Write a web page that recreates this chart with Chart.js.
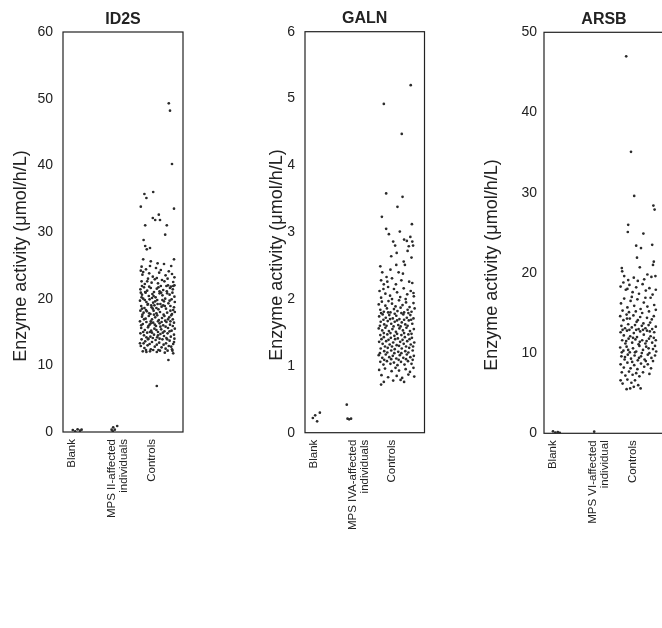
<!DOCTYPE html>
<html>
<head>
<meta charset="utf-8">
<script src="https://cdn.jsdelivr.net/npm/chart.js@4/dist/chart.umd.min.js"></script>
<style>
html,body{margin:0;padding:0;background:#fff;overflow:hidden;width:662px;height:628px;}
canvas{position:absolute;top:0;}
</style>
</head>
<body>
<canvas id="c1" width="256" height="628" style="left:0px"></canvas>
<canvas id="c2" width="243" height="628" style="left:245px"></canvas>
<canvas id="c3" width="269" height="628" style="left:470px"></canvas>
<script>
// ---------- DATA ----------
const yAxisTitle = 'Enzyme activity (\u03bcmol/h/L)';
const panelTitles = ['ID2S', 'GALN', 'ARSB'];
const id2sCategories = ['Blank', ['MPS II-affected', 'individuals'], 'Controls'];
const galnCategories = ['Blank', ['MPS IVA-affected', 'individuals'], 'Controls'];
const arsbCategories = ['Blank', ['MPS VI-affected', 'individual'], 'Controls'];
const id2sYTicks = [0, 60, 10];   // min, max, step
const galnYTicks = [0, 6, 1];
const arsbYTicks = [0, 50, 10];

// points: [category position with jitter, activity]
const id2sBlank = [[1.02,0.3],[1.08,0.1],[1.14,0.4],[1.20,0.2],[1.24,0.35]];
const id2sAffected = [[1.99,0.35],[2.02,0.1],[2.03,0.7],[2.07,0.35],[2.13,0.9]];
const id2sControls = [
[3.42,49.3],[3.45,48.2],[3.50,40.2],[2.72,33.8],[3.55,33.5],[2.81,35.7],[2.86,35.1],[3.03,36.0],[2.83,31.0],[3.02,32.1],[3.08,31.8],[3.17,32.6],[3.20,31.8],[3.37,31.0],[3.33,29.6],
[2.79,28.8],[2.83,27.9],[2.87,27.4],[2.95,27.6],[2.78,25.9],[3.55,25.9],[2.97,25.6],[3.14,25.3],[3.30,25.2],[2.74,24.8],
[2.72,24.2],[2.76,23.6],[2.85,24.4],[2.93,23.8],[3.02,23.3],[3.10,24.6],[3.18,23.9],[3.25,22.8],[3.34,23.5],[3.42,24.1],[3.50,23.7],[3.56,23.2],[3.53,22.5],[2.74,22.6],[2.82,22.2],[2.90,23.0],[2.99,22.4],[3.07,22.9],[3.15,22.3],[3.22,21.9],[3.31,22.6],[3.40,22.0],[3.47,21.8],[3.56,22.0],[2.95,24.9],
[2.71,21.4],[2.80,21.7],[2.88,21.2],[2.97,21.6],[3.05,21.0],[3.12,21.5],[3.28,21.3],[3.37,21.1],[3.52,21.4],
[2.75,20.6],[2.84,20.9],[2.92,20.4],[3.01,20.7],[3.09,20.2],[3.19,20.8],[3.26,20.5],[3.33,20.0],[3.44,20.6],[3.56,20.3],
[2.70,19.7],[2.78,20.0],[2.86,19.5],[2.94,19.9],[3.03,19.4],[3.13,19.8],[3.21,19.2],[3.30,19.6],[3.41,19.3],[3.49,19.9],[3.57,19.5],
[2.73,18.9],[2.81,18.6],[2.89,19.1],[2.99,18.7],[3.06,19.0],[3.16,18.4],[3.24,18.8],[3.35,18.5],[3.46,18.9],[3.53,18.3],
[2.71,18.2],[2.79,17.9],[2.87,18.1],[2.96,17.7],[3.04,18.2],[3.11,17.8],[3.20,18.0],[3.29,17.6],[3.38,17.9],[3.48,17.5],[3.57,18.0],
[2.75,17.3],[2.84,17.0],[2.92,17.4],[3.00,16.9],[3.08,17.2],[3.17,16.8],[3.25,17.1],[3.33,16.7],[3.43,17.2],[3.52,16.9],
[2.70,16.6],[2.77,16.2],[2.86,16.5],[2.94,16.1],[3.03,16.4],[3.10,15.9],[3.19,16.3],[3.28,16.0],[3.36,16.5],[3.45,16.1],[3.55,16.4],
[2.73,15.6],[2.82,15.3],[2.90,15.7],[2.98,15.2],[3.06,15.5],[3.15,15.0],[3.23,15.4],[3.31,15.1],[3.40,15.6],[3.49,15.2],[3.57,15.5],
[2.71,14.8],[2.80,14.5],[2.88,14.9],[2.96,14.3],[3.05,14.6],[3.13,14.2],[3.21,14.7],[3.30,14.4],[3.39,14.8],[3.47,14.3],[3.55,14.6],
[2.74,13.9],[2.83,13.6],[2.91,14.0],[3.00,13.5],[3.09,13.8],[3.18,13.4],[3.26,13.9],[3.35,13.3],[3.44,13.7],[3.53,13.2],
[2.72,12.9],[2.81,12.6],[2.89,13.0],[2.97,12.4],[3.07,12.8],[3.16,12.3],[3.24,12.7],[3.34,12.5],[3.42,12.9],[3.51,12.2],
[2.77,12.1],[2.86,12.0],[2.95,12.1],[3.12,12.0],[3.32,11.9],[3.53,11.8],[3.50,12.4],
[3.41,10.8],[3.12,6.9],
[2.75,21.9],[2.93,21.8],[3.16,21.7],[3.45,21.6],[2.83,21.0],[3.00,20.1],[3.23,20.9],[3.38,20.8],[3.51,20.9],[2.74,20.2],[2.90,19.2],[3.08,19.6],[3.26,19.8],[3.44,19.7],[2.85,18.3],[3.02,18.5],[3.14,19.2],[3.32,18.9],[3.55,18.7],[2.76,17.6],[2.93,17.8],[3.13,17.5],[3.31,17.4],[3.50,17.7],[2.80,16.9],[2.97,16.6],[3.15,16.6],[3.24,16.5],[3.40,16.9],[2.73,16.0],[2.91,15.9],[3.07,16.1],[3.34,15.8],[3.52,15.9],[2.78,15.0],[2.95,15.0],[3.11,15.3],[3.27,14.9],[3.44,15.1],[2.86,14.2],[3.02,14.1],[3.19,14.0],[3.36,14.1],[3.56,14.0],[2.79,13.3],[2.94,13.2],[3.12,13.1],[3.29,13.1],[3.48,12.8],[2.85,12.3],[3.03,12.3],[3.20,12.2],[3.39,12.2],[2.70,13.3],[2.98,19.0],[3.36,21.9],[2.72,20.9],[3.19,21.1],[3.05,17.6],[3.46,18.2],
[2.88,22.6],[3.12,23.1],[3.39,23.0],[2.78,24.0],[3.22,24.3],[3.48,24.9],[3.04,20.4],[3.28,19.0],[2.82,19.8],[3.11,18.6],[2.97,16.3],[3.21,15.8],[3.38,13.9],[2.90,13.9],[3.55,13.5],[3.00,14.9],[3.46,16.6],[2.75,18.5],[3.53,21.9],[3.15,14.5]
];

const galnBlank = [[0.97,0.22],[1.03,0.26],[1.08,0.17],[1.15,0.30]];
const galnAffected = [[1.84,0.42],[1.86,0.21],[1.90,0.20],[1.95,0.21]];
const galnControls = [
[3.48,5.20],[2.79,4.92],[3.25,4.47],[2.85,3.58],[3.27,3.53],[3.14,3.38],[2.74,3.23],[2.85,3.05],[3.20,3.01],[3.51,3.12],
[3.03,2.86],[3.08,2.80],[3.31,2.89],[3.38,2.87],[3.43,2.79],[3.52,2.86],[3.54,2.80],[3.40,2.72],[3.12,2.69],[2.98,2.64],[3.50,2.62],[3.30,2.56],[3.33,2.51],[3.11,2.51],[2.70,2.49],[3.47,2.93],[2.92,2.97],
[2.86,2.33],[2.72,2.28],[2.79,2.22],[2.90,2.18],[3.00,2.31],[3.24,2.28],[3.44,2.26],[3.52,2.24],[2.75,2.40],[2.96,2.44],[3.17,2.40],[2.68,2.12],[2.83,2.08],[2.95,2.05],[3.05,2.15],[3.13,2.10],[3.21,2.03],[3.30,2.16],[3.39,2.07],[3.48,2.12],[3.56,2.04],[2.72,2.02],[3.00,2.00],[3.35,2.00],[3.55,2.09],[2.88,2.26],[3.28,2.38],[3.10,2.22],[2.78,2.15],
[2.66,1.92],[2.74,1.96],[2.83,1.90],[2.91,1.97],[3.00,1.93],[3.09,1.89],[3.18,1.98],[3.27,1.91],[3.36,1.95],[3.45,1.88],[3.55,1.94],
[2.70,1.84],[2.79,1.81],[2.87,1.86],[2.96,1.80],[3.05,1.85],[3.14,1.82],[3.22,1.87],[3.31,1.80],[3.40,1.84],[3.50,1.81],[3.58,1.86],
[2.67,1.74],[2.76,1.77],[2.84,1.72],[2.93,1.76],[3.02,1.71],[3.11,1.75],[3.19,1.70],[3.29,1.77],[3.38,1.72],[3.47,1.76],[3.55,1.71],
[2.71,1.66],[2.80,1.62],[2.89,1.67],[2.98,1.63],[3.07,1.66],[3.16,1.61],[3.25,1.65],[3.34,1.62],[3.43,1.68],[3.52,1.63],
[2.66,1.56],[2.75,1.53],[2.83,1.57],[2.92,1.52],[3.01,1.55],[3.10,1.51],[3.19,1.56],[3.28,1.53],[3.37,1.57],[3.46,1.52],[3.56,1.55],
[2.70,1.46],[2.79,1.43],[2.88,1.47],[2.97,1.42],[3.06,1.45],[3.15,1.41],[3.24,1.46],[3.33,1.43],[3.42,1.47],[3.51,1.42],
[2.67,1.36],[2.76,1.33],[2.85,1.37],[2.94,1.32],[3.03,1.35],[3.12,1.31],[3.21,1.36],[3.30,1.33],[3.39,1.37],[3.48,1.32],[3.57,1.35],
[2.71,1.26],[2.80,1.22],[2.89,1.27],[2.98,1.23],[3.07,1.25],[3.16,1.21],[3.25,1.26],[3.34,1.22],[3.44,1.27],[3.53,1.23],
[2.66,1.16],[2.75,1.12],[2.84,1.17],[2.93,1.13],[3.02,1.15],[3.11,1.11],[3.20,1.16],[3.29,1.12],[3.38,1.17],[3.47,1.13],[3.56,1.15],
[2.70,1.06],[2.78,1.02],[2.87,1.07],[2.96,1.03],[3.05,1.05],[3.14,1.01],[3.23,1.06],[3.32,1.02],[3.41,1.07],[3.50,1.03],
[2.67,0.94],[2.82,0.96],[2.99,0.92],[3.09,0.97],[3.18,0.93],[3.35,0.95],[3.46,0.91],[3.55,0.97],
[2.73,0.86],[2.90,0.83],[3.12,0.85],[3.26,0.82],[3.42,0.87],[3.57,0.84],
[2.79,0.76],[3.03,0.78],[3.22,0.79],[3.31,0.76],[2.72,0.72],
[2.72,1.79],[2.90,1.80],[3.07,1.78],[3.24,1.79],[3.42,1.79],[2.78,1.69],[2.95,1.70],[3.13,1.68],[3.31,1.69],[3.49,1.69],[2.69,1.60],[2.86,1.60],[3.04,1.59],[3.22,1.59],[3.40,1.60],[2.79,1.49],[2.96,1.49],[3.13,1.48],[3.31,1.49],[3.50,1.48],[2.73,1.40],[2.91,1.39],[3.08,1.40],[3.27,1.39],[3.45,1.40],[2.82,1.29],[3.00,1.29],[3.18,1.30],[3.36,1.29],[3.54,1.29],[2.69,1.19],[2.88,1.20],[3.06,1.19],[3.24,1.19],[3.42,1.20],[2.80,1.09],[2.98,1.10],[3.17,1.09],[3.36,1.10],[3.53,1.09]
];

const arsbBlank = [[1.00,0.25],[1.06,0.10],[1.12,0.15],[1.17,0.05]];
const arsbAffected = [[2.03,0.20]];
const arsbControls = [
[2.83,47.0],[2.95,35.1],[3.03,29.6],[3.51,28.4],[3.54,27.9],[2.88,26.0],[2.87,25.1],[3.26,24.9],[3.08,23.4],[3.20,23.1],[3.48,23.5],[3.10,21.9],[3.52,21.4],[3.50,21.0],
[2.72,20.6],[2.73,20.2],[3.17,20.7],[2.78,19.6],[3.02,19.4],[3.36,19.8],[3.46,19.5],[2.88,19.1],[3.28,19.2],[3.56,19.6],
[2.69,18.3],[2.76,18.8],[2.82,17.9],[2.91,18.5],[2.99,17.6],[3.08,18.2],[3.15,17.4],[3.24,18.6],[3.32,17.8],[3.41,18.1],[3.49,17.3],[3.57,17.9],[2.86,18.0],[3.12,19.0],
[2.70,16.2],[2.78,16.8],[2.86,15.7],[2.94,16.5],[3.03,15.9],[3.11,16.7],[3.19,15.5],[3.27,16.3],[3.36,15.8],[3.44,16.9],[3.53,16.0],[2.74,15.3],[2.90,15.1],[3.07,15.2],[3.23,15.0],[3.40,15.2],[3.57,15.4],[2.97,17.0],[3.31,16.9],
[2.68,14.6],[2.76,14.1],[2.84,14.8],[2.92,14.3],[3.01,14.7],[3.09,13.9],[3.18,14.5],[3.26,13.7],[3.35,14.4],[3.43,13.8],[3.52,14.6],[2.71,13.4],[2.80,13.1],[2.88,13.6],[2.97,13.2],[3.05,13.5],[3.14,13.0],[3.22,13.4],[3.31,13.1],[3.39,13.5],[3.48,13.0],[3.57,13.3],
[2.69,12.6],[2.77,12.2],[2.85,12.8],[2.93,12.1],[3.02,12.5],[3.10,12.0],[3.18,12.7],[3.27,12.3],[3.35,12.8],[3.44,12.1],[3.53,12.6],[2.73,11.6],[2.81,11.2],[2.89,11.8],[2.98,11.3],[3.06,11.7],[3.14,11.1],[3.23,11.6],[3.31,11.2],[3.40,11.8],[3.48,11.3],[3.57,11.6],
[2.68,10.7],[2.76,10.3],[2.84,10.8],[2.92,10.1],[3.00,10.6],[3.08,10.2],[3.16,10.9],[3.25,10.4],[3.33,10.8],[3.41,10.0],[3.50,10.5],[3.58,10.2],[2.71,9.6],[2.79,9.2],[2.87,9.8],[2.95,9.3],[3.04,9.7],[3.12,9.1],[3.20,9.6],[3.29,9.2],[3.37,9.8],[3.46,9.4],[3.55,9.7],
[2.69,8.6],[2.77,8.2],[2.86,8.8],[2.94,8.1],[3.03,8.5],[3.11,8.0],[3.20,8.7],[3.28,8.3],[3.37,8.6],[3.45,8.1],[2.72,7.6],[2.81,7.2],[2.90,7.7],[2.99,7.3],[3.08,7.5],[3.16,7.1],[3.25,7.6],[3.41,7.4],
[2.69,6.6],[2.74,6.2],[2.86,6.7],[2.96,6.3],[3.05,6.6],[3.13,6.0],[3.19,5.6],[2.84,5.5],[3.02,5.8],[2.93,5.6],
[2.74,12.9],[2.91,12.9],[3.08,12.9],[3.25,12.9],[3.42,12.7],[2.83,11.5],[3.00,11.9],[3.17,11.4],[3.34,11.5],[3.52,11.9],[2.72,10.1],[2.88,10.4],[3.05,10.1],[3.22,10.0],[3.39,10.6],[3.55,10.9],[2.80,9.5],[2.98,8.9],[3.15,9.4],[3.32,9.0],[3.50,9.0],[2.85,14.3],[3.12,14.1],[3.47,14.2]
];

// ---------- RENDERING ----------
const FONT = "'Liberation Sans', Arial, Helvetica, sans-serif";
const INK = '#222';

const boxPlugin = {
  id: 'plotBox',
  afterDraw(chart) {
    const {ctx, chartArea: a} = chart;
    ctx.save();
    ctx.strokeStyle = INK;
    ctx.lineWidth = 1.2;
    ctx.strokeRect(a.left, a.top, a.right - a.left, a.bottom - a.top);
    ctx.restore();
  }
};

function toPts(arr) { return arr.map(p => ({x: p[0], y: p[1]})); }

function makePanel(id, title, cats, yTicks, groups, L) {
  const ds = groups.map(g => ({
    data: toPts(g),
    pointRadius: 1.35,
    pointBackgroundColor: '#2b2b2b',
    pointBorderWidth: 0,
    showLine: false
  }));
  new Chart(document.getElementById(id), {
    type: 'scatter',
    data: {datasets: ds},
    plugins: [boxPlugin],
    options: {
      responsive: false,
      animation: false,
      events: [],
      layout: {padding: {left: 0, top: L.padT, right: L.padR, bottom: 0}},
      plugins: {
        legend: {display: false},
        tooltip: {enabled: false},
        title: {display: true, text: title, color: INK, fullSize: false,
                font: {family: FONT, size: 16, weight: 'bold', lineHeight: 1.2},
                padding: {top: L.tTop, bottom: L.tBot}},
        subtitle: {display: true, position: 'left', text: yAxisTitle, color: INK,
                font: {family: FONT, size: 18, lineHeight: 1.2},
                padding: {top: L.yTitlePad, bottom: 0}}
      },
      scales: {
        x: {
          type: 'linear', min: L.xMin, max: L.xMax,
          grid: {display: false, drawTicks: false}, border: {display: false},
          afterBuildTicks: ax => { ax.ticks = cats.map((c, i) => ({value: i + 1})); },
          afterFit: ax => { ax.height = L.xH; },
          ticks: {autoSkip: false, minRotation: 90, maxRotation: 90, padding: 7, color: INK,
                  font: {family: FONT, size: 11.5, lineHeight: 1.0},
                  callback: (v, i) => cats[i]}
        },
        y: {
          min: yTicks[0], max: yTicks[1],
          grid: {display: false, drawTicks: false}, border: {display: false},
          afterFit: ax => { ax.width = L.yW; },
          ticks: {stepSize: yTicks[2], padding: L.tickPad, color: INK,
                  font: {family: FONT, size: 14}}
        }
      }
    }
  });
}

makePanel('c1', panelTitles[0], id2sCategories, id2sYTicks,
  [id2sBlank, id2sAffected, id2sControls],
  {padT: -116, padR: 73, tTop: 125.9, tBot: 2.9, yTitlePad: 10.2, yW: 31.2, xH: 196, tickPad: 10, xMin: 0.775, xMax: 3.775});

makePanel('c2', panelTitles[1], galnCategories, galnYTicks,
  [galnBlank, galnAffected, galnControls],
  {padT: -118, padR: 63.5, tTop: 127.4, tBot: 3.1, yTitlePad: 21.2, yW: 17.2, xH: 195.3, tickPad: 10, xMin: 0.769, xMax: 3.833});

makePanel('c3', panelTitles[2], arsbCategories, arsbYTicks,
  [arsbBlank, arsbAffected, arsbControls],
  {padT: -98, padR: 75, tTop: 107.9, tBot: 3.2, yTitlePad: 11.2, yW: 41.2, xH: 194.7, tickPad: 7, xMin: 0.775, xMax: 3.775});
</script>
</body>
</html>
